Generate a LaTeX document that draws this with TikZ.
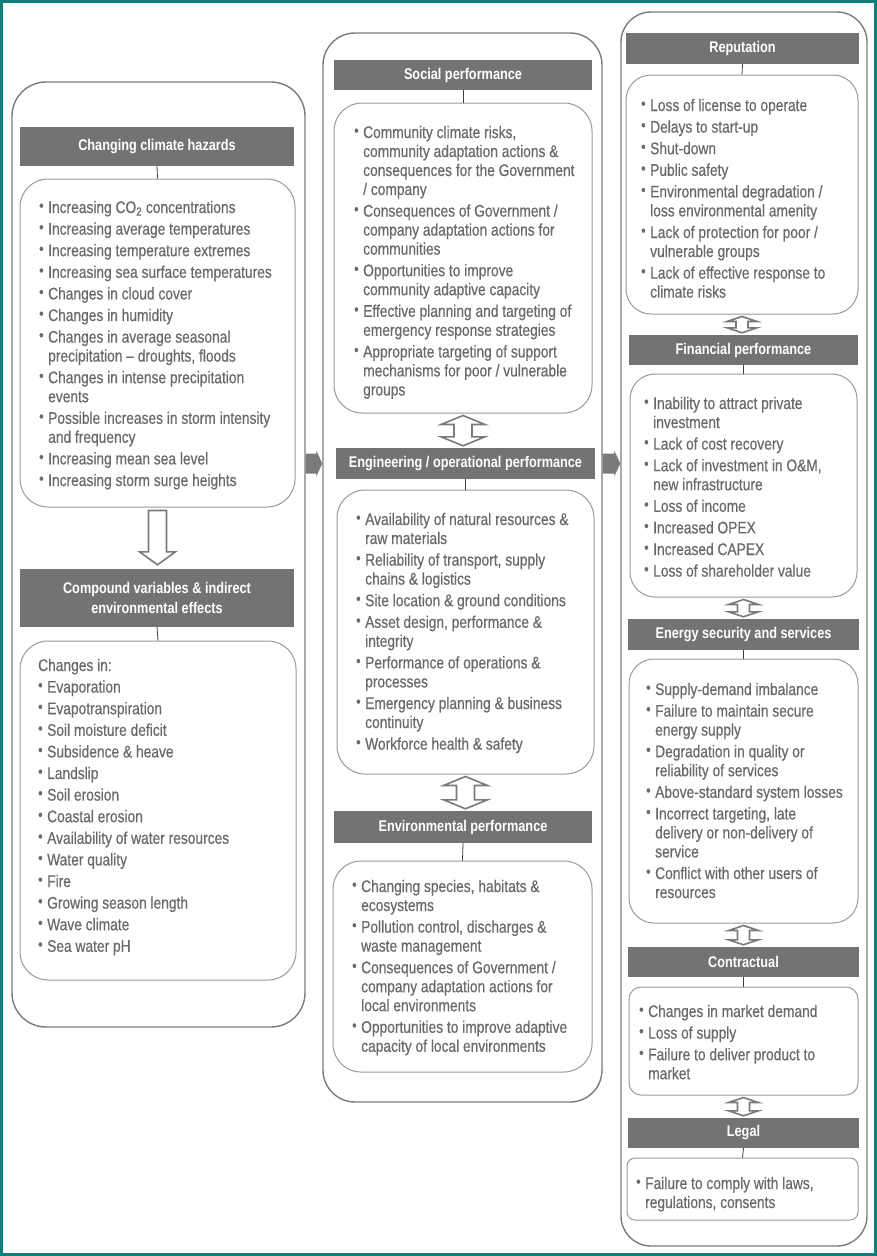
\documentclass[tikz,border=0pt]{standalone}
\usepackage{fontspec}
\setmainfont{Liberation Sans}[FakeStretch=0.82]
\newfontfamily\itemfont{Liberation Sans}[FakeStretch=0.82,FakeBold=0.5]
\usetikzlibrary{calc}
\definecolor{teal1}{HTML}{0B7F78}
\definecolor{hdrgray}{HTML}{737373}
\definecolor{txtgray}{HTML}{6A6A6A}
\definecolor{outgray}{HTML}{7C7C7C}
\definecolor{ingray}{HTML}{9A9A9A}
\definecolor{arrgray}{HTML}{7A7A7A}
\newlength\bw \setlength\bw{9pt}
\newcommand\bul{\raisebox{2.2pt}{\fontsize{15.5}{15.5}\selectfont\textbullet}}
\newcommand\bi[1]{\hbox{\makebox[\bw][l]{\bul}#1}}
\newcommand\cl[1]{\hbox{\hspace*{\bw}#1}}
\newcommand\pl[1]{\hbox{#1}}
\newcommand\ig{\vskip 2.6pt}
\newcommand\blist[1]{\vtop{\baselineskip=19pt\lineskiplimit=-10pt #1}}
% vertical double arrow between two nodes
\newcommand\vdarrow[5]{%
\draw[harrow] let \p1=(#1.south), \p2=(#2.north) in
 (\x1,\y1-2pt) -- (\x1+#3,\y1-2pt-#5) -- (\x1+#4,\y1-2pt-#5) -- (\x1+#4,\y2+2pt+#5)
 -- (\x1+#3,\y2+2pt+#5) -- (\x1,\y2+2pt) -- (\x1-#3,\y2+2pt+#5) -- (\x1-#4,\y2+2pt+#5)
 -- (\x1-#4,\y1-2pt-#5) -- (\x1-#3,\y1-2pt-#5) -- cycle;}
\begin{document}
\begin{tikzpicture}[x=1pt,y=-1pt,
  hdr/.style={fill=hdrgray, text=white, font=\bfseries\fontsize{15.5}{20}\selectfont, inner sep=0pt, align=center},
  obox/.style={draw=outgray, line width=1.4pt, rounded corners=34pt, inner sep=0pt},
  ibox/.style={draw=ingray, line width=1pt, fill=white, rounded corners=28pt, inner sep=0pt},
  items/.style={text=txtgray, font=\itemfont\fontsize{16.8}{19}\selectfont, inner sep=0pt, anchor=base west},
  conn/.style={draw=black!75, line width=0.8pt},
  harrow/.style={draw=arrgray, fill=white, line width=1.6pt, line join=miter},
  farrow/.style={fill=arrgray, draw=none}]
\useasboundingbox (0,0) rectangle (877,1256);
\fill[white] (0,0) rectangle (877,1256);
\draw[teal1, line width=3pt] (1.5,1.5) rectangle (875.5,1254.5);

% outer columns
\node[obox, minimum width=293pt, minimum height=945pt] (L) at (158.5,554.5) {};
\node[obox, minimum width=279pt, minimum height=1069pt, rounded corners=32pt] (M) at (462.5,567.5) {};
\node[obox, minimum width=246pt, minimum height=1234pt, rounded corners=30pt] (R) at (744,629) {};

% left column
\node[hdr, minimum width=274pt, minimum height=39pt] (H1) at (157,146.5) {Changing climate hazards};
\node[ibox, minimum width=275pt, minimum height=328pt] (B1) at (157.5,343) {};
\node[hdr, minimum width=274pt, minimum height=58pt] (H2) at (157,598) {Compound variables \& indirect\\environmental effects};
\node[ibox, minimum width=276pt, minimum height=339pt] (B2) at (158,810.5) {};

% middle column
\node[hdr, minimum width=258pt, minimum height=30pt] (H3) at (463,75) {Social performance};
\node[ibox, minimum width=258pt, minimum height=310pt] (B3) at (463,258) {};
\node[hdr, minimum width=259pt, minimum height=31pt] (H4) at (465.5,463.5) {Engineering / operational performance};
\node[ibox, minimum width=257pt, minimum height=284pt] (B4) at (465.5,632) {};
\node[hdr, minimum width=258pt, minimum height=32pt] (H5) at (463,827) {Environmental performance};
\node[ibox, minimum width=259pt, minimum height=211pt] (B5) at (462.5,966.5) {};

% right column
\node[hdr, minimum width=233pt, minimum height=31pt] (H6) at (742.5,48.5) {Reputation};
\node[ibox, minimum width=232pt, minimum height=239pt, rounded corners=25pt] (B6) at (742,194.5) {};
\node[hdr, minimum width=229pt, minimum height=30pt] (H7) at (743.5,350) {Financial performance};
\node[ibox, minimum width=227pt, minimum height=223pt, rounded corners=25pt] (B7) at (743.5,485.5) {};
\node[hdr, minimum width=231pt, minimum height=31pt] (H8) at (743.5,634.5) {Energy security and services};
\node[ibox, minimum width=229pt, minimum height=264pt, rounded corners=25pt] (B8) at (743.5,791) {};
\node[hdr, minimum width=231pt, minimum height=30pt] (H9) at (743.5,962) {Contractual};
\node[ibox, minimum width=229pt, minimum height=108pt, rounded corners=12pt] (B9) at (743.5,1041) {};
\node[hdr, minimum width=231pt, minimum height=30pt] (H10) at (743.5,1133) {Legal};
\node[ibox, minimum width=231pt, minimum height=62pt, rounded corners=8pt] (B10) at (742.5,1189) {};

% connectors header -> box
\foreach \h/\b in {H1/B1,H2/B2,H3/B3,H4/B4,H5/B5,H6/B6,H7/B7,H8/B8,H9/B9,H10/B10}
  \draw[conn] (\h.south) -- (\b.north);

% hollow down arrow
\draw[harrow] let \p1=(B1.south), \p2=(H2.north) in
  (\x1-9pt,\y1-3pt) -- (\x1+9pt,\y1-3pt) -- (\x1+9pt,\y2+17pt) -- (\x1+18pt,\y2+17pt)
  -- (\x1,\y2+4pt) -- (\x1-18pt,\y2+17pt) -- (\x1-9pt,\y2+17pt) -- cycle;

% double arrows
\vdarrow{B3}{H4}{22pt}{9pt}{9pt}
\vdarrow{B4}{H5}{22pt}{9pt}{9pt}
\vdarrow{B6}{H7}{15pt}{6pt}{5pt}
\vdarrow{B7}{H8}{15pt}{6pt}{5pt}
\vdarrow{B8}{H9}{15pt}{6pt}{5pt}
\vdarrow{B9}{H10}{15pt}{6pt}{5pt}

% filled right arrows between columns
\fill[farrow] let \p1=(L.east |- H4.center), \p2=(M.west |- H4.center) in
  (\x1,\y1+10pt) -- (\x2-6pt,\y1+10pt) -- (\x2-6pt,\y1+13pt) -- (\x2,\y1) -- (\x2-6pt,\y1-13pt)
  -- (\x2-6pt,\y1-10pt) -- (\x1,\y1-10pt) -- cycle;
\fill[farrow] let \p1=(M.east |- H4.center), \p2=(R.west |- H4.center) in
  (\x1,\y1+10pt) -- (\x2-6pt,\y1+10pt) -- (\x2-6pt,\y1+13pt) -- (\x2,\y1) -- (\x2-6pt,\y1-13pt)
  -- (\x2-6pt,\y1-10pt) -- (\x1,\y1-10pt) -- cycle;

% texts
\node[items] (T1) at (39,213) {\blist{%
\bi{Increasing CO\textsubscript{2} concentrations}\ig
\bi{Increasing average temperatures}\ig
\bi{Increasing temperature extremes}\ig
\bi{Increasing sea surface temperatures}\ig
\bi{Changes in cloud cover}\ig
\bi{Changes in humidity}\ig
\bi{Changes in average seasonal}\cl{precipitation – droughts, floods}\ig
\bi{Changes in intense precipitation}\cl{events}\ig
\bi{Possible increases in storm intensity}\cl{and frequency}\ig
\bi{Increasing mean sea level}\ig
\bi{Increasing storm surge heights}}};

\node[items] (T2) at (38,671) {\blist{%
\pl{Changes in:}\ig
\bi{Evaporation}\ig
\bi{Evapotranspiration}\ig
\bi{Soil moisture deficit}\ig
\bi{Subsidence \& heave}\ig
\bi{Landslip}\ig
\bi{Soil erosion}\ig
\bi{Coastal erosion}\ig
\bi{Availability of water resources}\ig
\bi{Water quality}\ig
\bi{Fire}\ig
\bi{Growing season length}\ig
\bi{Wave climate}\ig
\bi{Sea water pH}}};

\node[items] (T3) at (354,138) {\blist{%
\bi{Community climate risks,}\cl{community adaptation actions \&}\cl{consequences for the Government}\cl{/ company}\ig
\bi{Consequences of Government /}\cl{company adaptation actions for}\cl{communities}\ig
\bi{Opportunities to improve}\cl{community adaptive capacity}\ig
\bi{Effective planning and targeting of}\cl{emergency response strategies}\ig
\bi{Appropriate targeting of support}\cl{mechanisms for poor / vulnerable}\cl{groups}}};

\node[items] (T4) at (356,525) {\blist{%
\bi{Availability of natural resources \&}\cl{raw materials}\ig
\bi{Reliability of transport, supply}\cl{chains \& logistics}\ig
\bi{Site location \& ground conditions}\ig
\bi{Asset design, performance \&}\cl{integrity}\ig
\bi{Performance of operations \&}\cl{processes}\ig
\bi{Emergency planning \& business}\cl{continuity}\ig
\bi{Workforce health \& safety}}};

\node[items] (T5) at (352,892) {\blist{%
\bi{Changing species, habitats \&}\cl{ecosystems}\ig
\bi{Pollution control, discharges \&}\cl{waste management}\ig
\bi{Consequences of Government /}\cl{company adaptation actions for}\cl{local environments}\ig
\bi{Opportunities to improve adaptive}\cl{capacity of local environments}}};

\node[items] (T6) at (641,111) {\blist{%
\bi{Loss of license to operate}\ig
\bi{Delays to start-up}\ig
\bi{Shut-down}\ig
\bi{Public safety}\ig
\bi{Environmental degradation /}\cl{loss environmental amenity}\ig
\bi{Lack of protection for poor /}\cl{vulnerable groups}\ig
\bi{Lack of effective response to}\cl{climate risks}}};

\node[items] (T7) at (644,409) {\blist{%
\bi{Inability to attract private}\cl{investment}\ig
\bi{Lack of cost recovery}\ig
\bi{Lack of investment in O\&M,}\cl{new infrastructure}\ig
\bi{Loss of income}\ig
\bi{Increased OPEX}\ig
\bi{Increased CAPEX}\ig
\bi{Loss of shareholder value}}};

\node[items] (T8) at (646,695) {\blist{%
\bi{Supply-demand imbalance}\ig
\bi{Failure to maintain secure}\cl{energy supply}\ig
\bi{Degradation in quality or}\cl{reliability of services}\ig
\bi{Above-standard system losses}\ig
\bi{Incorrect targeting, late}\cl{delivery or non-delivery of}\cl{service}\ig
\bi{Conflict with other users of}\cl{resources}}};

\node[items] (T9) at (639,1017) {\blist{%
\bi{Changes in market demand}\ig
\bi{Loss of supply}\ig
\bi{Failure to deliver product to}\cl{market}}};

\node[items] (T10) at (636,1189) {\blist{%
\bi{Failure to comply with laws,}\cl{regulations, consents}}};
\end{tikzpicture}
\end{document}
